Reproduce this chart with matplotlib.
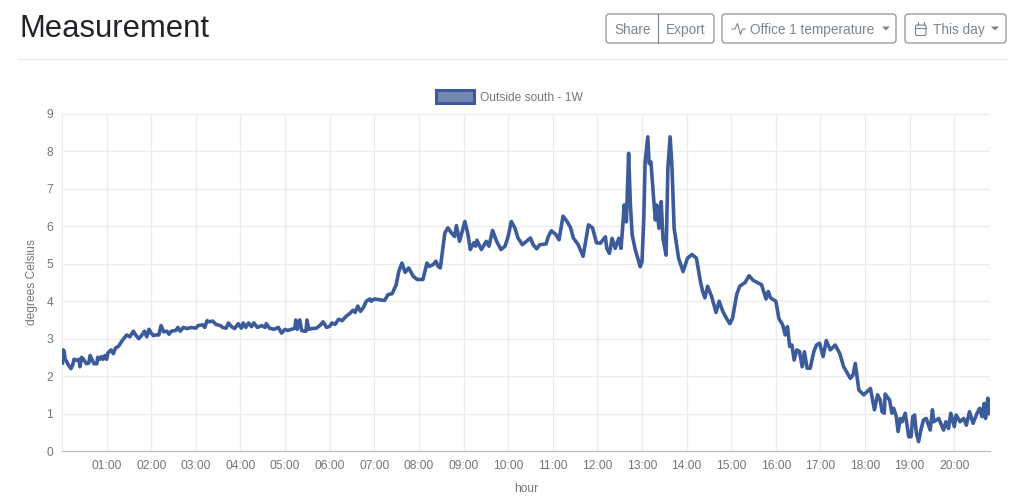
import matplotlib
matplotlib.use("Agg")
import matplotlib.pyplot as plt
from matplotlib.patches import FancyBboxPatch, Patch, Polygon

# --- DATA ---
hours_morning = [
    0.01, 0.03, 0.05, 0.07, 0.10, 0.14, 0.20, 0.24, 0.27, 0.33, 0.38, 0.40, 0.44, 0.48, 0.55, 0.60, 0.63, 0.68,
    0.72, 0.78, 0.80, 0.85, 0.88, 0.92, 0.96, 1.00, 1.03, 1.10, 1.15, 1.20, 1.27, 1.35, 1.45, 1.52, 1.60, 1.65,
    1.72, 1.78, 1.85, 1.90, 1.95, 2.00, 2.05, 2.10, 2.17, 2.22, 2.28, 2.35, 2.40, 2.45, 2.55, 2.60, 2.65, 2.72,
    2.80, 2.90, 3.00, 3.05, 3.15, 3.20, 3.25, 3.30, 3.38, 3.45, 3.55, 3.60, 3.68, 3.73, 3.80, 3.87, 3.95, 4.02,
    4.06, 4.12, 4.18, 4.25, 4.30, 4.38, 4.48, 4.55, 4.58, 4.65, 4.75, 4.85, 4.92, 5.00, 5.05, 5.15, 5.22, 5.24,
    5.27, 5.33, 5.37, 5.42, 5.47, 5.49, 5.53, 5.60, 5.70, 5.78, 5.85, 5.93, 6.00, 6.05, 6.12, 6.20, 6.28, 6.37,
    6.45, 6.52, 6.57, 6.63, 6.69, 6.75, 6.82, 6.90, 6.93, 7.00, 7.12, 7.23, 7.31, 7.40, 7.49, 7.55, 7.62, 7.69,
    7.77, 7.87, 7.96, 8.09, 8.18, 8.23, 8.32, 8.38, 8.43, 8.48, 8.58, 8.65, 8.73, 8.80, 8.84, 8.91, 9.03, 9.10,
    9.15, 9.23, 9.27, 9.30, 9.40, 9.51, 9.57, 9.65, 9.74, 9.84, 9.93, 10.00, 10.07, 10.15, 10.22, 10.32, 10.41,
    10.50, 10.56, 10.64, 10.71, 10.85, 10.90, 10.97, 11.07, 11.14, 11.23, 11.32, 11.40, 11.46, 11.57, 11.68,
    11.80, 11.89, 11.98,
]
temps_morning = [
    2.35, 2.70, 2.65, 2.45, 2.40, 2.30, 2.20, 2.30, 2.45, 2.42, 2.45, 2.25, 2.50, 2.45, 2.33, 2.35, 2.55, 2.42,
    2.33, 2.33, 2.50, 2.45, 2.52, 2.45, 2.55, 2.45, 2.62, 2.70, 2.60, 2.75, 2.80, 2.95, 3.10, 3.05, 3.20, 3.10,
    3.00, 3.08, 3.20, 3.05, 3.25, 3.15, 3.08, 3.10, 3.10, 3.35, 3.18, 3.20, 3.12, 3.20, 3.22, 3.30, 3.20, 3.30,
    3.27, 3.30, 3.28, 3.35, 3.37, 3.30, 3.48, 3.45, 3.47, 3.38, 3.35, 3.30, 3.28, 3.42, 3.32, 3.27, 3.40, 3.28,
    3.42, 3.30, 3.42, 3.32, 3.42, 3.30, 3.35, 3.30, 3.40, 3.28, 3.25, 3.30, 3.15, 3.25, 3.22, 3.25, 3.28, 3.50,
    3.25, 3.50, 3.22, 3.20, 3.20, 3.50, 3.25, 3.27, 3.28, 3.35, 3.45, 3.30, 3.33, 3.42, 3.38, 3.52, 3.48, 3.60,
    3.67, 3.76, 3.70, 3.87, 3.73, 3.82, 4.00, 4.06, 4.00, 4.06, 4.04, 4.02, 4.18, 4.20, 4.44, 4.80, 5.02, 4.77,
    4.89, 4.67, 4.58, 4.58, 5.02, 4.93, 4.98, 5.07, 4.93, 4.89, 5.82, 5.96, 5.82, 5.73, 6.02, 5.60, 6.13, 5.78,
    5.38, 5.56, 5.47, 5.63, 5.38, 5.60, 5.47, 5.89, 5.60, 5.38, 5.47, 5.73, 6.13, 5.96, 5.69, 5.51, 5.60,
    5.69, 5.51, 5.40, 5.51, 5.53, 5.73, 5.88, 5.78, 5.64, 6.27, 6.13, 5.96, 5.69, 5.51, 5.20,
    6.04, 5.96, 5.56,
]
hours_peaks = [
    12.07, 12.12, 12.18, 12.21, 12.27, 12.33, 12.40, 12.48, 12.53, 12.57, 12.60, 12.65, 12.70, 12.74, 12.78,
    12.85, 12.96, 13.00, 13.04, 13.07, 13.13, 13.16, 13.20, 13.26, 13.30, 13.33, 13.38, 13.43, 13.47, 13.54,
    13.58, 13.63, 13.67, 13.72, 13.82, 13.92, 14.02, 14.12, 14.22, 14.31,
]
temps_peaks = [
    5.55, 5.63, 5.72, 5.41, 5.28, 5.68, 5.41, 5.68, 5.41, 6.03, 6.57, 6.12, 7.95, 6.57, 5.77,
    5.37, 4.92, 5.05, 6.21, 7.72, 8.39, 7.68, 7.72, 6.75, 6.17, 6.57, 5.95, 6.66, 5.68, 5.23,
    7.55, 8.39, 7.64, 5.95, 5.15, 4.79, 5.15, 5.25, 5.15, 4.52,
]
hours_afternoon = [
    14.36, 14.41, 14.47, 14.56, 14.66, 14.73, 14.81, 14.90, 14.97, 15.03, 15.12, 15.19, 15.31, 15.40, 15.49,
    15.68, 15.78, 15.83, 15.88, 16.00, 16.07, 16.15, 16.21, 16.26, 16.31, 16.36, 16.41, 16.47, 16.53, 16.59,
    16.64, 16.70, 16.77, 16.85, 16.91, 16.98, 17.06, 17.13, 17.22, 17.33, 17.43, 17.52, 17.67, 17.73, 17.78,
    17.86, 17.97, 18.12, 18.21, 18.28,
]
temps_afternoon = [
    4.26, 4.09, 4.40, 4.13, 3.70, 4.00, 3.73, 3.53, 3.40, 3.55, 4.17, 4.40, 4.50, 4.68, 4.56,
    4.44, 4.06, 4.26, 4.09, 4.00, 3.53, 3.38, 3.10, 3.32, 2.79, 2.83, 2.43, 2.70, 2.66, 2.25,
    2.65, 2.21, 2.21, 2.65, 2.83, 2.88, 2.52, 2.95, 2.70, 2.83, 2.61, 2.25, 1.94, 2.03, 2.34,
    1.63, 1.50, 1.67, 1.10, 1.50,
]
hours_evening = [
    18.34, 18.38, 18.43, 18.45, 18.55, 18.60, 18.64, 18.70, 18.74, 18.79, 18.83, 18.90, 18.98, 19.03, 19.07,
    19.11, 19.15, 19.20, 19.25, 19.31, 19.37, 19.46, 19.51, 19.54, 19.65, 19.76, 19.81, 19.87, 19.92, 20.00,
    20.04, 20.13, 20.21, 20.27, 20.34, 20.42, 20.51, 20.57, 20.62, 20.67, 20.70, 20.75, 20.78,
]
temps_evening = [
    1.36, 1.05, 1.01, 1.52, 1.36, 1.01, 1.14, 0.92, 0.52, 0.87, 0.78, 1.01, 0.38, 0.38, 0.92,
    0.96, 0.47, 0.25, 0.56, 0.83, 0.87, 0.56, 1.10, 0.78, 0.87, 0.56, 0.78, 0.60, 1.01, 0.65,
    0.96, 0.78, 0.87, 0.69, 1.05, 0.74, 1.01, 1.14, 0.92, 1.27, 0.87, 1.41, 1.00,
]
hour_ticks = list(range(1, 21))
hour_labels = [f"{h:02d}:00" for h in hour_ticks]
temp_ticks = list(range(0, 10))

hours = hours_morning + hours_peaks + hours_afternoon + hours_evening
temps = temps_morning + temps_peaks + temps_afternoon + temps_evening

# --- STYLE ---
W, H = 1024, 503
BLUE = "#3c5b9a"
GREY = "#757575"
BTN = "#7d858c"
plt.rcParams["font.family"] = ["Liberation Sans", "DejaVu Sans"]

fig = plt.figure(figsize=(W / 100, H / 100), dpi=100)

# --- CHART ---
ax = fig.add_axes([62 / W, 1 - 451 / H, (990 - 62) / W, (451 - 114) / H])
ax.plot(hours, temps, color=BLUE, lw=2.6, solid_joinstyle="round", zorder=3)
ax.set_xlim(0, 20.8)
ax.set_ylim(0, 9)
ax.set_xticks(hour_ticks)
ax.set_xticklabels(hour_labels)
ax.set_yticks(temp_ticks)
ax.grid(color="#ececec", lw=1)
ax.set_axisbelow(True)
for side in ["top", "right"]:
    ax.spines[side].set_visible(False)
ax.spines["left"].set_color("#ececec")
ax.spines["bottom"].set_color("#b8b8b8")
ax.tick_params(axis="both", colors=GREY, labelsize=8.64, length=0, pad=6.5)
ax.set_xlabel("hour", color=GREY, fontsize=8.64, labelpad=8)
ax.set_ylabel("degrees Celsius", color=GREY, fontsize=8.64, labelpad=6)

handle = Patch(facecolor="#7487b3", edgecolor=BLUE, lw=2.2, label="Outside south - 1W")
ax.legend(handles=[handle], loc="lower center", bbox_to_anchor=(0.482, 0.995), frameon=False,
          fontsize=8.64, labelcolor=GREY, handlelength=3.2, handleheight=1.2, handletextpad=0.5,
          borderpad=0, borderaxespad=1.0)

# --- PAGE HEADER (pixel coordinates) ---
page = fig.add_axes([0, 0, 1, 1], facecolor="none")
page.set_xlim(0, W)
page.set_ylim(H, 0)
page.axis("off")

page.text(19, 37, "Measurement", fontsize=22.3, color="#212529", va="baseline")
page.plot([19, 1007], [59, 59], color="#e9e9e9", lw=1)


def button(x0, x1):
    page.add_patch(FancyBboxPatch((x0 + 3, 17), x1 - x0 - 6, 23, boxstyle="round,pad=3,rounding_size=3",
                                  fc="white", ec=BTN, lw=0.8))


def caret(x):
    page.add_patch(Polygon([(x, 26.5), (x + 8, 26.5), (x + 4, 30.5)], closed=True, fc=BTN, ec="none"))


button(606, 714)
page.plot([658, 658], [14, 43], color=BTN, lw=0.8)
button(722, 896)
button(905, 1006)

btn_font = dict(fontsize=9.8, color=BTN, va="center")
page.text(614, 29.5, "Share", **btn_font)
page.text(666, 29.5, "Export", **btn_font)
page.text(749.5, 29.5, "Office 1 temperature", **btn_font)
page.text(933, 29.5, "This day", **btn_font)
caret(882)
caret(991)

# activity icon
page.plot([732, 735, 737.5, 740.5, 742.5, 745], [29, 29, 23.5, 34.5, 29, 29], color=BTN, lw=0.8)
# calendar icon
page.add_patch(FancyBboxPatch((915.5, 25), 10.5, 10.5, boxstyle="round,pad=0,rounding_size=1.5",
                              fc="none", ec=BTN, lw=0.8))
page.plot([915.5, 926], [28, 28], color=BTN, lw=0.8)
page.plot([918, 918], [22, 25], color=BTN, lw=0.8)
page.plot([923.5, 923.5], [22, 25], color=BTN, lw=0.8)

fig.savefig("out.png", dpi=100)
